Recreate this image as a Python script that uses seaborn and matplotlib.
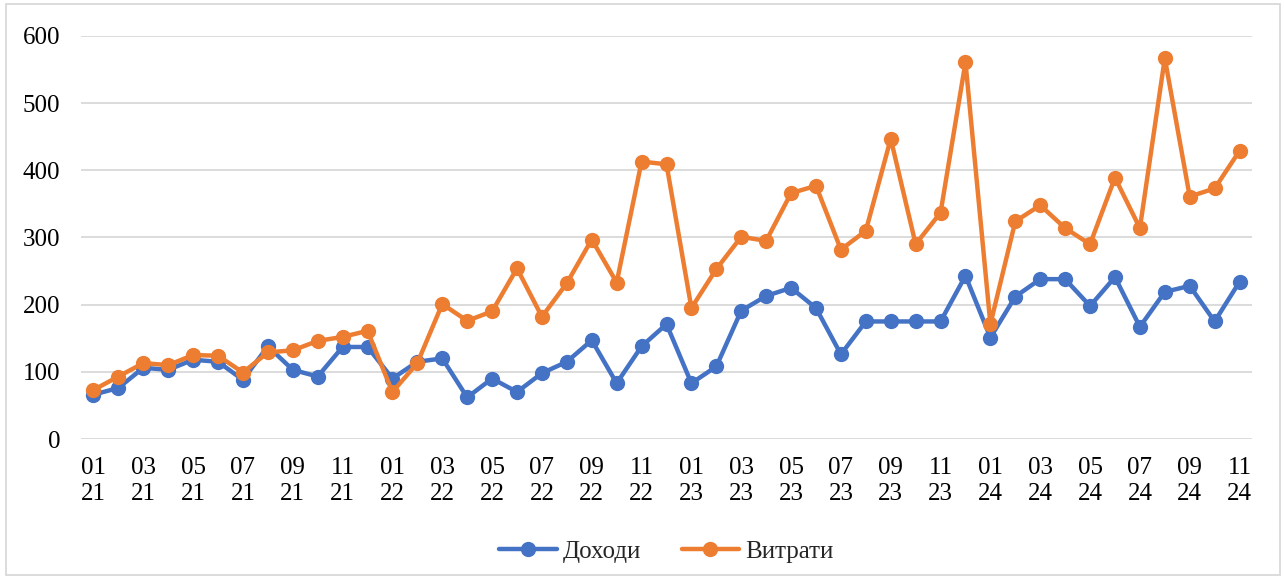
import matplotlib
matplotlib.use("Agg")
import matplotlib.pyplot as plt
import seaborn as sns
import pandas as pd
from matplotlib.patches import Rectangle

years = ["21", "22", "23", "24"]
months = ["01", "02", "03", "04", "05", "06", "07", "08", "09", "10", "11", "12"]
periods = [f"{m}\n{y}" for y in years for m in months][:47]

income = [66, 76, 106, 103, 118, 115, 88, 138, 103, 93, 137, 137,
          90, 115, 120, 62, 90, 70, 98, 115, 147, 83, 138, 171,
          83, 108, 191, 213, 225, 195, 126, 175, 175, 175, 175, 243,
          151, 212, 238, 238, 198, 241, 167, 219, 228, 175, 234]
expenses = [73, 93, 113, 110, 125, 124, 99, 129, 132, 146, 152, 161,
            70, 113, 201, 176, 190, 254, 182, 232, 297, 233, 413, 409,
            195, 253, 301, 295, 366, 377, 282, 310, 447, 290, 337, 561,
            171, 324, 348, 314, 290, 389, 314, 567, 361, 373, 429]
series_names = ["Доходи", "Витрати"]
colors = ["#4472C4", "#ED7D31"]

df = pd.DataFrame({
    "idx": list(range(len(periods))) * 2,
    "value": income + expenses,
    "series": [series_names[0]] * len(income) + [series_names[1]] * len(expenses),
})

sns.set_theme(style="white")
plt.rcParams["font.family"] = ["Liberation Serif", "DejaVu Serif"]

fig = plt.figure(figsize=(12.84, 5.77), dpi=100)
ax = fig.add_axes([81 / 1284, 1 - 439 / 577, (1252 - 81) / 1284, (439 - 36) / 577])

sns.lineplot(data=df, x="idx", y="value", hue="series", palette=colors,
             marker="o", markersize=11, markeredgewidth=0, linewidth=3.2,
             ax=ax, legend=True)

ax.set_xlim(-0.5, len(periods) - 0.5)
ax.set_ylim(0, 600)
ax.set_yticks(range(0, 601, 100))
ax.yaxis.grid(True, color="#D9D9D9", linewidth=1.3)
ax.xaxis.grid(False)
ax.set_axisbelow(True)
for s in ax.spines.values():
    s.set_visible(False)
ax.set_xticks(range(0, len(periods), 2))
ax.set_xticklabels([periods[i] for i in range(0, len(periods), 2)], linespacing=1.25)
ax.tick_params(axis="both", labelsize=18, colors="#000000", length=0)
ax.tick_params(axis="y", pad=15)
ax.tick_params(axis="x", pad=13)
ax.set_xlabel("")
ax.set_ylabel("")

leg = ax.legend(loc="upper center", bbox_to_anchor=(0.5, -0.195), ncol=2, frameon=False,
                fontsize=18, handlelength=2.3, columnspacing=1.6, handletextpad=0.25)
for h in leg.legend_handles:
    h.set_linewidth(3.2)
    h.set_markersize(11)

fig.patches.append(Rectangle((6 / 1284, 2 / 577), 1 - 10 / 1284, 1 - 6 / 577,
                             transform=fig.transFigure, fill=False,
                             edgecolor="#D9D9D9", linewidth=1.3))

fig.savefig("out.png", dpi=100, facecolor="white")
